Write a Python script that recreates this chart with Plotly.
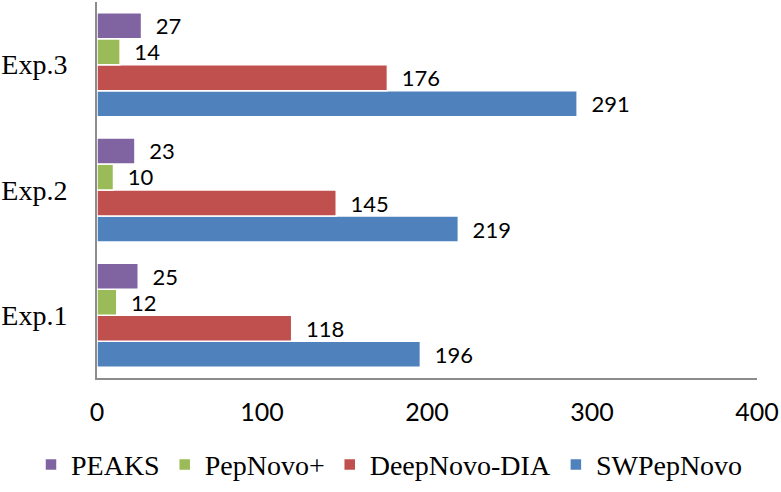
import plotly.graph_objects as go

categories = ["Exp.1", "Exp.2", "Exp.3"]
series_names = ["SWPepNovo", "DeepNovo-DIA", "PepNovo+", "PEAKS"]
swpepnovo = [196, 219, 291]
deepnovo_dia = [118, 145, 176]
pepnovo_plus = [12, 10, 14]
peaks = [25, 23, 27]
colors = ["#4F81BD", "#C0504D", "#9BBB59", "#8064A2"]
x_ticks = [0, 100, 200, 300, 400]

values = [swpepnovo, deepnovo_dia, pepnovo_plus, peaks]

fig = go.Figure()
for name, vals, col in zip(series_names, values, colors):
    fig.add_trace(go.Bar(
        y=categories, x=vals, name=name, orientation="h",
        marker=dict(color=col, line=dict(color="white", width=1.5)),
        text=vals, texttemplate="  %{x}", textposition="outside",
        textfont=dict(family="Lato", size=22, color="black"),
        constraintext="none", cliponaxis=False,
    ))

fig.update_layout(
    width=781, height=492,
    margin=dict(l=97, r=24, t=2, b=114, autoexpand=False),
    barmode="group", bargap=0.17, bargroupgap=0,
    plot_bgcolor="white", paper_bgcolor="white",
    showlegend=True,
    legend=dict(orientation="h", traceorder="reversed",
                x=-0.1, xanchor="left", y=-0.231, yanchor="middle",
                font=dict(family="Liberation Serif", size=28, color="black"),
                itemwidth=30, bgcolor="rgba(0,0,0,0)"),
    xaxis=dict(range=[0, 400], tickvals=x_ticks, showgrid=False, zeroline=False,
               showline=True, linecolor="#8C8C8C", linewidth=2,
               ticks="", ticklabelstandoff=11, automargin=False,
               tickfont=dict(family="Lato", size=25, color="black")),
    yaxis=dict(showgrid=False, zeroline=False, showline=True, automargin=False,
               linecolor="#8C8C8C", linewidth=2, ticks="", ticklabelstandoff=22,
               tickfont=dict(family="Liberation Serif", size=28, color="black")),
)

fig.write_html("out.html", config={"displayModeBar": False},
               post_script="document.body.style.margin='0';")
